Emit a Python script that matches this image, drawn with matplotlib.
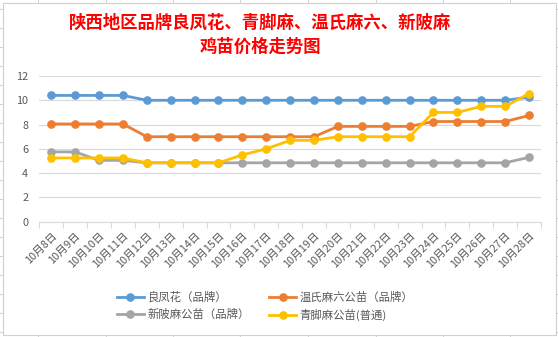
import matplotlib
matplotlib.use("Agg")
import matplotlib.pyplot as plt
from matplotlib.lines import Line2D
from matplotlib.patches import Rectangle

plt.rcParams['font.family'] = ['Noto Sans CJK SC', 'DejaVu Sans']

dates = ["10月%d日" % d for d in range(8, 29)]

liangfenghua = [10.4, 10.4, 10.4, 10.4, 10.0, 10.0, 10.0, 10.0, 10.0, 10.0, 10.0,
                10.0, 10.0, 10.0, 10.0, 10.0, 10.0, 10.0, 10.0, 10.0, 10.25]
wenshi = [8.05, 8.05, 8.05, 8.05, 7.0, 7.0, 7.0, 7.0, 7.0, 7.0, 7.0,
          7.0, 7.85, 7.85, 7.85, 7.85, 8.25, 8.25, 8.25, 8.25, 8.75]
xinpima = [5.75, 5.75, 5.05, 5.05, 4.85, 4.85, 4.85, 4.85, 4.85, 4.85, 4.85,
           4.85, 4.85, 4.85, 4.85, 4.85, 4.85, 4.85, 4.85, 4.85, 5.3]
qingjiaoma = [5.25, 5.25, 5.25, 5.25, 4.85, 4.85, 4.85, 4.85, 5.5, 6.0, 6.7,
              6.7, 7.0, 7.0, 7.0, 7.0, 9.0, 9.0, 9.5, 9.5, 10.55]

series = [
    ("良凤花（品牌）", liangfenghua, "#5B9BD5"),
    ("温氏麻六公苗（品牌）", wenshi, "#ED7D31"),
    ("新陂麻公苗（品牌）", xinpima, "#A5A5A5"),
    ("青脚麻公苗(普通)", qingjiaoma, "#FFC000"),
]

W, H = 558, 337
fig = plt.figure(figsize=(W / 100, H / 100), dpi=100)

# spreadsheet cell lines behind the chart
for x in [38, 106, 173, 240, 308, 376, 443, 510]:
    fig.add_artist(Line2D([x / W, x / W], [0, 1], color="#d4d4d4", lw=0.8, zorder=-3))
for y in range(9, 337, 19):
    fig.add_artist(Line2D([0, 1], [1 - y / H, 1 - y / H], color="#d4d4d4", lw=0.8, zorder=-3))
fig.add_artist(Rectangle((2.5 / W, 2.5 / H), (W - 5) / W, (H - 5) / H,
                         facecolor="white", edgecolor="#d0d0d0", lw=0.8, zorder=-2))

x0, x1, ytop, ybot = 39.3, 541, 76, 221.7
ax = fig.add_axes([x0 / W, 1 - ybot / H, (x1 - x0) / W, (ybot - ytop) / H])
ax.set_facecolor("none")

xs = list(range(len(dates)))
for name, vals, color in series:
    ax.plot(xs, vals, color=color, lw=2.0, marker="o", ms=5.2, label=name,
            solid_joinstyle="round")

ax.set_xlim(-0.5, len(dates) - 0.5)
ax.set_ylim(0, 12)
ax.set_yticks(range(0, 13, 2))
ax.grid(axis="y", color="#d9d9d9", lw=0.8)
ax.set_axisbelow(True)
for s in ["top", "right", "left"]:
    ax.spines[s].set_visible(False)
ax.spines["bottom"].set_color("#d9d9d9")
ax.spines["bottom"].set_linewidth(0.8)

ax.set_xticks(xs)
ax.set_xticklabels(dates, rotation=45, ha="right", rotation_mode="anchor")
ax.set_xticks([i - 0.5 for i in range(len(dates) + 1)], minor=True)
ax.tick_params(axis="x", which="major", length=0, pad=6, labelsize=7.8,
               labelcolor="#595959")
ax.tick_params(axis="x", which="minor", length=4, color="#d9d9d9", width=0.8)
ax.tick_params(axis="y", length=0, labelsize=7.8, labelcolor="#595959", pad=8)

fig.text(260 / W, 1 - 23 / H, "陕西地区品牌良凤花、青脚麻、温氏麻六、新陂麻",
         color="red", fontsize=12.5, fontweight="bold", ha="center", va="center")
fig.text(260 / W, 1 - 47 / H, "鸡苗价格走势图",
         color="red", fontsize=12.5, fontweight="bold", ha="center", va="center")

handles, labels = ax.get_legend_handles_labels()
order = [0, 2, 1, 3]
fig.legend([handles[i] for i in order], [labels[i] for i in order],
           ncol=2, loc="center", bbox_to_anchor=(265 / W, 1 - 306 / H),
           frameon=False, fontsize=8.2, handlelength=2.4, columnspacing=1.7,
           handletextpad=0.3, labelspacing=0.55, labelcolor="#595959")

fig.savefig("out.png", dpi=100)
